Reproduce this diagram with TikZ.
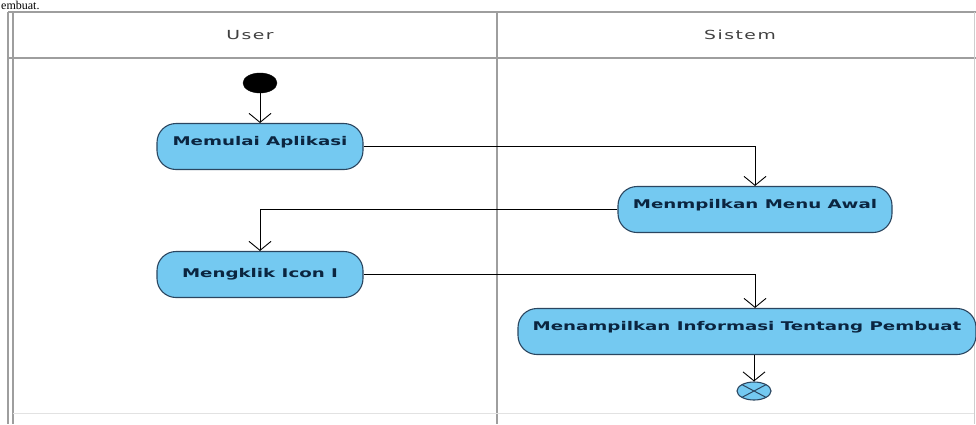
\documentclass[tikz,border=0pt]{standalone}
\usepackage{fontspec}
\setmainfont{Liberation Serif}
\newfontfamily\actfont[FakeStretch=1.52]{DejaVu Sans}
\newfontfamily\lanefont[FakeStretch=1.5,LetterSpace=12]{DejaVu Sans}
\usetikzlibrary{arrows.meta,shapes.geometric}
\definecolor{actfill}{HTML}{74C9F1}
\definecolor{actborder}{HTML}{2B4660}
\definecolor{acttext}{HTML}{0B2540}
\definecolor{laneline}{HTML}{9E9E9E}
\tikzset{
  act/.style={rounded corners=19pt, draw=actborder, line width=1.1pt, fill=actfill,
    font=\actfont\bfseries\fontsize{12}{14}\selectfont, text=acttext,
    inner sep=0pt, minimum height=46pt},
  uptext/.style={text height=9pt, text depth=12pt},
  flow/.style={draw=black, line width=0.9pt,
    -{Straight Barb[length=9pt,width=22pt,line width=0.9pt]}},
  startnode/.style={ellipse, fill=black, draw=black, minimum width=34pt, minimum height=20pt, inner sep=0pt},
  endnode/.style={ellipse, fill=actfill, draw=actborder, line width=1.1pt, minimum width=34pt, minimum height=18pt, inner sep=0pt,
    path picture={\draw[actborder, line width=1pt] (path picture bounding box.north west) -- (path picture bounding box.south east)
      (path picture bounding box.north east) -- (path picture bounding box.south west);}},
  lanehead/.style={font=\lanefont\fontsize{12.5}{14}\selectfont, text=black!75},
  lane/.style={draw=laneline, line width=1.6pt}
}
\begin{document}
\begin{tikzpicture}[x=1pt,y=-1pt]
\useasboundingbox (0,0) rectangle (976,424);
\clip (0,0) rectangle (976,424);
% fragment of text above
\node[anchor=base west, inner sep=0pt, font=\fontsize{12}{14}\selectfont] (frag) at (1,9) {embuat.};
% swimlane frame
\draw[lane] (8,12) -- (976,12);
\draw[lane] (8,58) -- (976,58);
\draw[lane] (8,12) -- (8,424);
\draw[lane, line width=1.2pt] (13,12) -- (13,424);
\draw[lane, line width=2pt] (497,12) -- (497,424);
\draw[draw=laneline!50, line width=1pt] (974,12) -- (974,424);
\draw[draw=laneline!30, line width=0.8pt] (13,413) -- (974,413);
\node[lanehead] (huser) at (250,35) {User};
\node[lanehead] (hsis) at (740,35) {Sistem};
% activities
\node[startnode] (start) at (260,83) {};
\node[act, uptext, minimum width=206pt] (mem) at (260,146.5) {Memulai Aplikasi};
\node[act, uptext, minimum width=274pt] (menu) at (755,209.5) {Menmpilkan Menu Awal};
\node[act, minimum width=206pt] (klik) at (260,274.5) {Mengklik Icon I};
\node[act, uptext, minimum width=458pt] (info) at (747,331.5) {Menampilkan Informasi Tentang Pembuat};
\node[endnode] (final) at (754,391) {};
% flows
\draw[flow] (start) -- (start |- mem.north);
\draw[flow] (mem.east) -| (menu.north);
\draw[flow] (menu.west) -| (klik.north);
\draw[flow] (klik.east) -| (menu.south |- info.north);
\draw[flow] (final |- info.south) -- (final.north);
\end{tikzpicture}
\end{document}
